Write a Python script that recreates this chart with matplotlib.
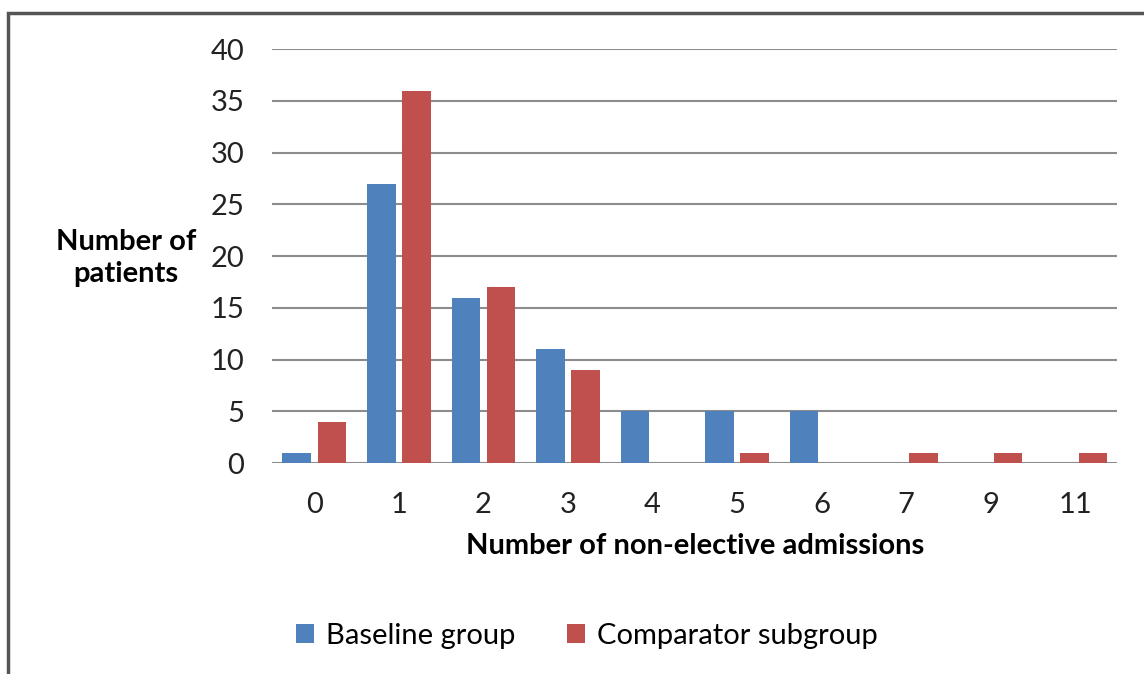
import numpy as np
import matplotlib.pyplot as plt
from matplotlib.patches import Rectangle

plt.rcParams['font.family'] = ['Lato', 'DejaVu Sans']

admissions = ['0', '1', '2', '3', '4', '5', '6', '7', '9', '11']
baseline = [1, 27, 16, 11, 5, 5, 5, 0, 0, 0]
comparator = [4, 36, 17, 9, 0, 1, 0, 1, 1, 1]

fig = plt.figure(figsize=(11.44, 6.74), dpi=100)
ax = fig.add_axes([0.2378, 0.313, 0.739, 0.614])

x = np.arange(len(admissions))
w = 0.337
ax.bar(x - 0.208, baseline, width=w, color='#4F81BD', label='Baseline group', zorder=3)
ax.bar(x + 0.208, comparator, width=w, color='#C0504D', label='Comparator subgroup', zorder=3)

ax.set_xlim(-0.5, len(admissions) - 0.5)
ax.set_ylim(0, 40)
ax.set_yticks(np.arange(0, 41, 5))
ax.set_xticks(x)
ax.set_xticklabels(admissions)
ax.tick_params(axis='both', length=0, labelsize=21, colors='#222222')
ax.tick_params(axis='y', pad=20)
ax.tick_params(axis='x', pad=21)
ax.yaxis.grid(True, color='#8c8c8c', linewidth=1.5, zorder=0)
for s in ax.spines.values():
    s.set_visible(False)

ax.set_xlabel('Number of non-elective admissions', fontsize=21, fontweight='bold', labelpad=11)
fig.text(0.110, 0.617, 'Number of\npatients', fontsize=21, fontweight='bold',
         ha='center', va='center', linespacing=1.3)

fig.legend(loc='center', bbox_to_anchor=(0.513, 0.057), ncol=2, frameon=False,
           fontsize=21, handlelength=0.6, handleheight=0.6, handletextpad=0.4,
           columnspacing=1.8)

# outer chart frame
fig.add_artist(Rectangle((8 / 1144, -0.05), 1.0, 1 - 13 / 674 + 0.05,
                         transform=fig.transFigure, fill=False,
                         edgecolor='#555555', linewidth=2.5))

fig.savefig('out.png', dpi=100)
